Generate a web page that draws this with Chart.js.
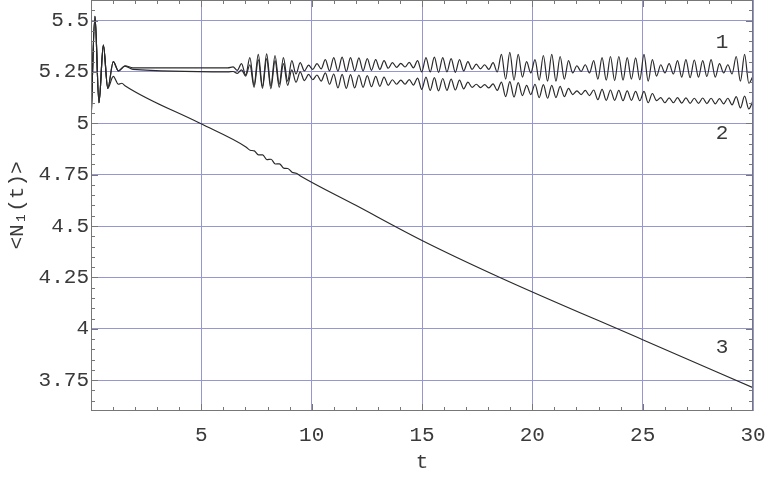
<!DOCTYPE html>
<html>
<head>
<meta charset="utf-8">
<script src="https://cdn.jsdelivr.net/npm/chart.js@4"></script>
<style>
html, body { margin: 0; padding: 0; background: #fff; }
#marco { width: 771px; height: 477px; }
</style>
</head>
<body>
<div id="marco"><canvas id="grafico"></canvas></div>
<script>
// eje x (t) y eje y (<N1(t)>)
const ticksX = [5, 10, 15, 20, 25, 30];
const ticksY = [3.75, 4, 4.25, 4.5, 4.75, 5, 5.25, 5.5];

// transitorio inicial, curvas 1 y 2
const tInicio = [0, 0.18, 0.36, 0.56, 0.76, 1.01, 1.24, 1.54, 1.9, 6.2];
const n1Inicio = [5.0, 5.52, 5.10, 5.38, 5.17, 5.30, 5.255, 5.28, 5.27, 5.27];
const n2Inicio = [5.0, 5.52, 5.10, 5.38, 5.17, 5.30, 5.255, 5.278, 5.262, 5.25];

// zona oscilante: maximos y minimos leidos cada medio periodo
const tOscInicio = 6.44;
const tOscPaso = 0.19;
const n1Osc = [
  5.275, 5.258, 5.29, 5.235, 5.32,
  5.185, 5.335, 5.18, 5.338, 5.182, 5.33, 5.19, 5.32, 5.205,
  5.305, 5.24, 5.295, 5.255, 5.283, 5.262,
  5.29, 5.265, 5.31, 5.255,
  5.32, 5.254, 5.322, 5.252, 5.32, 5.255, 5.318, 5.255, 5.315, 5.258, 5.31, 5.262, 5.305, 5.268,
  5.295, 5.272, 5.292, 5.274, 5.296, 5.27, 5.305,
  5.25, 5.32, 5.25, 5.322, 5.248, 5.32, 5.25, 5.315, 5.248, 5.31, 5.255, 5.3,
  5.262, 5.288, 5.265, 5.285, 5.262, 5.295, 5.25,
  5.335, 5.215, 5.345, 5.21, 5.335, 5.225,
  5.3, 5.245, 5.31,
  5.21, 5.33, 5.205, 5.335, 5.205, 5.325, 5.215, 5.305,
  5.245, 5.28, 5.252, 5.285, 5.245,
  5.305, 5.215, 5.32, 5.21, 5.325, 5.208, 5.325, 5.21, 5.32, 5.215, 5.318, 5.212,
  5.335, 5.205, 5.31, 5.23,
  5.285, 5.245, 5.29, 5.24,
  5.305, 5.225, 5.31, 5.222, 5.308, 5.225, 5.305, 5.228, 5.31, 5.225,
  5.29, 5.245, 5.285, 5.24,
  5.325, 5.205, 5.335, 5.195, 5.23
];
const n2Osc = [
  5.252, 5.243, 5.26, 5.23, 5.285,
  5.175, 5.31, 5.17, 5.315, 5.168, 5.305, 5.175, 5.29, 5.185,
  5.26, 5.2, 5.25, 5.208, 5.238, 5.212,
  5.235, 5.205, 5.245, 5.19,
  5.24, 5.172, 5.238, 5.17, 5.237, 5.172, 5.235, 5.175, 5.232, 5.178, 5.228, 5.18, 5.225, 5.185,
  5.212, 5.19, 5.21, 5.19, 5.213, 5.186, 5.22,
  5.165, 5.225, 5.16, 5.222, 5.158, 5.218, 5.16, 5.215, 5.162, 5.21, 5.168, 5.2,
  5.175, 5.19, 5.174, 5.188, 5.172, 5.192, 5.16,
  5.2, 5.13, 5.203, 5.128, 5.198, 5.135,
  5.185, 5.14, 5.19,
  5.125, 5.188, 5.122, 5.185, 5.125, 5.18, 5.13, 5.17,
  5.14, 5.158, 5.14, 5.16, 5.135,
  5.162, 5.115, 5.165, 5.112, 5.162, 5.112, 5.16, 5.11, 5.158, 5.112, 5.155, 5.11,
  5.155, 5.1, 5.145, 5.11,
  5.125, 5.1, 5.124, 5.1, 5.125, 5.098, 5.124, 5.097, 5.122, 5.097, 5.123, 5.096, 5.122, 5.095, 5.12, 5.095, 5.122, 5.09,
  5.13, 5.075, 5.132, 5.07, 5.11
];

// curva 3
const t3 = [0, 0.18, 0.36, 0.56, 0.76, 1.01, 1.24, 1.4, 1.54, 4.94,
  7.02, 7.21, 7.40, 7.59, 7.78, 7.97, 8.16, 8.35, 8.54, 8.73, 8.92, 9.11, 9.30, 9.49,
  12, 15, 18.53, 25, 30];
const n3 = [5.0, 5.52, 5.10, 5.38, 5.17, 5.228, 5.19, 5.195, 5.183, 5.0,
  4.885, 4.869, 4.866, 4.846, 4.846, 4.823, 4.825, 4.802, 4.803, 4.782, 4.780, 4.762, 4.757, 4.744,
  4.601, 4.43, 4.25, 3.947, 3.713];

// etiquetas de las curvas
const etiquetas = ['1', '2', '3'];
const etiquetasT = [28.6, 28.6, 28.6];
const etiquetasN = [5.393, 4.95, 3.907];

function puntosCurva(tIni, nIni, nOsc) {
  const pts = tIni.map((t, i) => ({ x: t, y: nIni[i] }));
  nOsc.forEach((n, i) => pts.push({ x: tOscInicio + i * tOscPaso, y: n }));
  return pts;
}

const fuente = { family: '"Liberation Mono", "DejaVu Sans Mono", monospace', size: 21 };
const colorTexto = '#3a3a3a';
const colorRejilla = 'rgb(150,150,208)';
const colorCurva = '#2a2a2a';

const marcoPlugin = {
  id: 'marco',
  afterDatasetsDraw(chart) {
    const { ctx, chartArea: a, scales: { x, y } } = chart;
    ctx.save();
    ctx.strokeStyle = '#777';
    ctx.lineWidth = 1;
    ctx.beginPath();
    for (let k = 1; k < 30; k++) {
      const px = Math.round(x.getPixelForValue(k)) + 0.5;
      const largo = k % 5 === 0 ? 7 : 4;
      ctx.moveTo(px, a.bottom); ctx.lineTo(px, a.bottom - largo);
      ctx.moveTo(px, a.top); ctx.lineTo(px, a.top + largo);
    }
    for (let k = 73; k < 112; k++) {
      const py = Math.round(y.getPixelForValue(k * 0.05)) + 0.5;
      const largo = k % 5 === 0 ? 7 : 4;
      ctx.moveTo(a.left, py); ctx.lineTo(a.left + largo, py);
      ctx.moveTo(a.right, py); ctx.lineTo(a.right - largo, py);
    }
    ctx.stroke();
    ctx.strokeRect(a.left + 0.5, a.top + 0.5, a.right - a.left - 1, a.bottom - a.top - 1);
    // numeros de curva
    ctx.fillStyle = colorTexto;
    ctx.font = '21px "Liberation Mono", monospace';
    ctx.textAlign = 'center';
    ctx.textBaseline = 'middle';
    etiquetas.forEach((txt, i) => {
      ctx.fillText(txt, x.getPixelForValue(etiquetasT[i]), y.getPixelForValue(etiquetasN[i]));
    });
    ctx.restore();
  }
};

const ctx = document.getElementById('grafico').getContext('2d');

const miGrafico = new Chart(ctx, {
  type: 'line',
  data: {
    datasets: [{
      label: '1',
      data: puntosCurva(tInicio, n1Inicio, n1Osc),
      borderColor: colorCurva,
      borderWidth: 1.2,
      pointRadius: 0,
      cubicInterpolationMode: 'monotone'
    }, {
      label: '2',
      data: puntosCurva(tInicio, n2Inicio, n2Osc),
      borderColor: colorCurva,
      borderWidth: 1.2,
      pointRadius: 0,
      cubicInterpolationMode: 'monotone'
    }, {
      label: '3',
      data: t3.map((t, i) => ({ x: t, y: n3[i] })),
      borderColor: colorCurva,
      borderWidth: 1.2,
      pointRadius: 0,
      cubicInterpolationMode: 'monotone'
    }]
  },
  options: {
    responsive: true,
    maintainAspectRatio: false,
    animation: false,
    devicePixelRatio: 1,
    layout: { padding: { left: 0, right: 18, top: 0, bottom: 0 } },
    plugins: { legend: { display: false }, tooltip: { enabled: false } },
    scales: {
      x: {
        type: 'linear',
        min: 0,
        max: 30,
        afterBuildTicks: s => { s.ticks = ticksX.map(v => ({ value: v })); },
        afterFit: s => { s.height = 66; s.paddingLeft = 0; s.paddingRight = 0; },
        ticks: { callback: v => String(v), font: fuente, color: colorTexto, padding: 12, maxRotation: 0, autoSkip: false },
        grid: { color: colorRejilla, lineWidth: 1, drawTicks: false },
        border: { display: false },
        title: { display: true, text: 't', font: fuente, color: colorTexto, padding: { top: 0, bottom: 2 } }
      },
      y: {
        type: 'linear',
        min: 3.6,
        max: 5.6,
        afterBuildTicks: s => { s.ticks = ticksY.map(v => ({ value: v })); },
        afterFit: s => { s.width = 91; s.paddingTop = 0; s.paddingBottom = 0; },
        ticks: { callback: v => String(v), font: fuente, color: colorTexto, padding: 2, autoSkip: false },
        grid: { color: colorRejilla, lineWidth: 1, drawTicks: false },
        border: { display: false },
        title: { display: true, text: '<N₁(t)>', font: fuente, color: colorTexto, padding: { top: 5, bottom: 0 } }
      }
    }
  },
  plugins: [marcoPlugin]
});
</script>
</body>
</html>
